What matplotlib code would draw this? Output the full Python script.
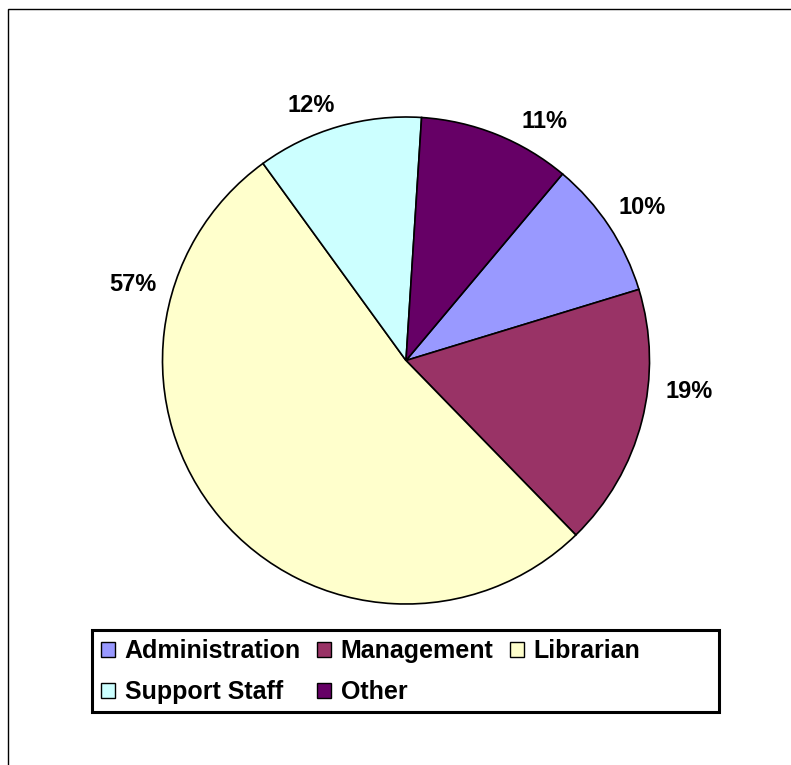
import numpy as np
import matplotlib.pyplot as plt
from matplotlib.patches import Patch, Rectangle

plt.rcParams['font.family'] = ['Liberation Sans', 'DejaVu Sans']
plt.rcParams['font.weight'] = 'bold'

# staff share by role (percent as labelled)
categories = ['Administration', 'Management', 'Librarian', 'Support Staff', 'Other']
values = [10, 19, 57, 12, 11]
colors = ['#9999FF', '#993366', '#FFFFCC', '#CCFFFF', '#660066']
# where the data labels sit (degrees, radius) - best-fit placement as in the original
label_angle = [33.0, -6.2, 164.5, 110.5, 60.0]
label_radius = [1.156, 1.169, 1.163, 1.116, 1.135]

W, H = 791, 765
fig = plt.figure(figsize=(W / 100, H / 100), dpi=100)

# pie centre and radius in pixels
cx, cy, R = 406, 360.5, 243.5
ax = fig.add_axes([(cx - R) / W, (H - cy - R) / H, 2 * R / W, 2 * R / H])

wedges, _ = ax.pie(values, colors=colors, startangle=50, counterclock=False,
                   wedgeprops=dict(edgecolor='black', linewidth=1.2))
ax.set_xlim(-1, 1)
ax.set_ylim(-1, 1)
ax.set_aspect('equal')
ax.axis('off')

for v, a, r in zip(values, label_angle, label_radius):
    t = np.deg2rad(a)
    ax.text(r * np.cos(t), r * np.sin(t), f'{v}%', ha='center', va='center',
            fontsize=17, fontweight='bold')

# legend: rows [Admin, Management, Librarian], [Support Staff, Other]
order = [0, 3, 1, 4, 2]
handles = [Patch(facecolor=colors[i], edgecolor='black', linewidth=1.0) for i in order]
labels = [categories[i] for i in order]
fig.legend(handles, labels, loc='upper left', bbox_to_anchor=(101 / W, 1 - 639 / H),
           ncol=3, frameon=False, borderpad=0, borderaxespad=0,
           handlelength=0.55, handleheight=0.55, handletextpad=0.4,
           columnspacing=0.65, labelspacing=0.68,
           prop=dict(weight='bold', size=18))

# legend box
fig.patches.append(Rectangle((92 / W, 1 - 712 / H), (719 - 92) / W, (712 - 630) / H,
                             transform=fig.transFigure, fill=False,
                             edgecolor='black', linewidth=2.2))
# chart area border (runs off the right and bottom)
fig.patches.append(Rectangle((8 / W, -0.05), 1.1, 1 - 9 / H + 0.05,
                             transform=fig.transFigure, fill=False,
                             edgecolor='black', linewidth=1.0))

fig.savefig('out.png', dpi=100)
